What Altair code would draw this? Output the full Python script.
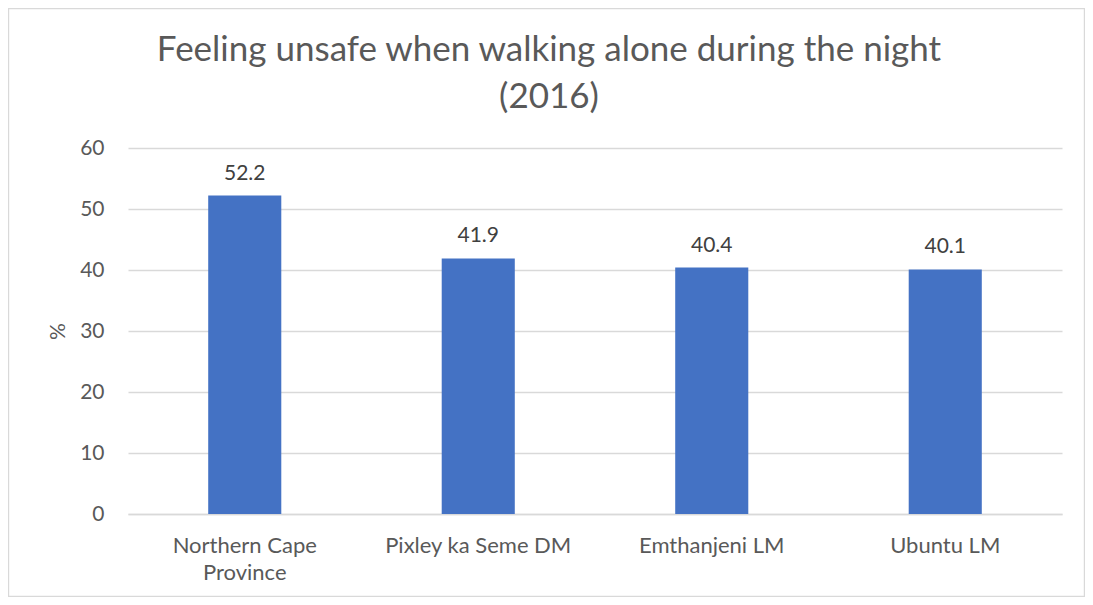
import altair as alt
import pandas as pd

categories = ["Northern Cape Province", "Pixley ka Seme DM", "Emthanjeni LM", "Ubuntu LM"]
values = [52.2, 41.9, 40.4, 40.1]
y_ticks = [0, 10, 20, 30, 40, 50, 60]

df = pd.DataFrame({"area": categories, "pct": values})

FONT = "Lato"
W, H = 934, 366
PAD = {"left": 120, "top": 140, "right": 23, "bottom": 83}

x = alt.X(
    "area:N",
    sort=categories,
    title=None,
    scale=alt.Scale(paddingInner=0.687, paddingOuter=0.3435),
    axis=alt.Axis(
        labelAngle=0,
        ticks=False,
        domain=True,
        domainColor="#d9d9d9",
        domainWidth=1.5,
        labelFont=FONT,
        labelFontSize=22,
        labelColor="#595959",
        labelPadding=21,
        labelLineHeight=27,
        labelBaseline="top",
        labelLimit=400,
        labelExpr="datum.value == 'Northern Cape Province' ? ['Northern Cape', 'Province'] : datum.value",
    ),
)
y = alt.Y(
    "pct:Q",
    title="%",
    scale=alt.Scale(domain=[0, 60]),
    axis=alt.Axis(
        values=y_ticks,
        ticks=False,
        domain=False,
        grid=True,
        gridColor="#d9d9d9",
        gridWidth=1.5,
        labelFont=FONT,
        labelFontSize=21,
        labelColor="#595959",
        labelPadding=24,
        titleFont=FONT,
        titleFontSize=21,
        titleFontWeight="normal",
        titleColor="#595959",
        titleX=-70,
        titleY=183,
        titleAngle=270,
        titleAlign="center",
        titleBaseline="middle",
    ),
)

base = alt.Chart(df)
bars = base.mark_bar(color="#4472C4").encode(x=x, y=y)
labels = base.mark_text(
    font=FONT, fontSize=21, color="#404040", baseline="bottom", dy=-12
).encode(x=alt.X("area:N", sort=categories), y="pct:Q", text=alt.Text("pct:Q", format=".1f"))

border = alt.Chart(pd.DataFrame({"a": [0]})).mark_rect(
    fill=None, stroke="#d9d9d9", strokeWidth=1.2
).encode(
    x=alt.value(-PAD["left"] + 0.6),
    x2=alt.value(W + PAD["right"] - 0.6),
    y=alt.value(-PAD["top"] + 0.6),
    y2=alt.value(H + PAD["bottom"] - 0.6),
)

chart = alt.layer(border, bars, labels).properties(
    width=W,
    height=H,
    padding=PAD,
    autosize=alt.AutoSizeParams(type="none"),
    title=alt.TitleParams(
        text=["Feeling unsafe when walking alone during the night", "(2016)"],
        font=FONT,
        fontSize=35,
        fontWeight="normal",
        color="#595959",
        anchor="middle",
        frame="group",
        dx=-46,
        offset=-107,
        lineHeight=47,
    ),
).configure(background="white").configure_view(strokeOpacity=0, strokeWidth=0)

chart.save("out.html", embed_options={"renderer": "svg", "actions": False})
